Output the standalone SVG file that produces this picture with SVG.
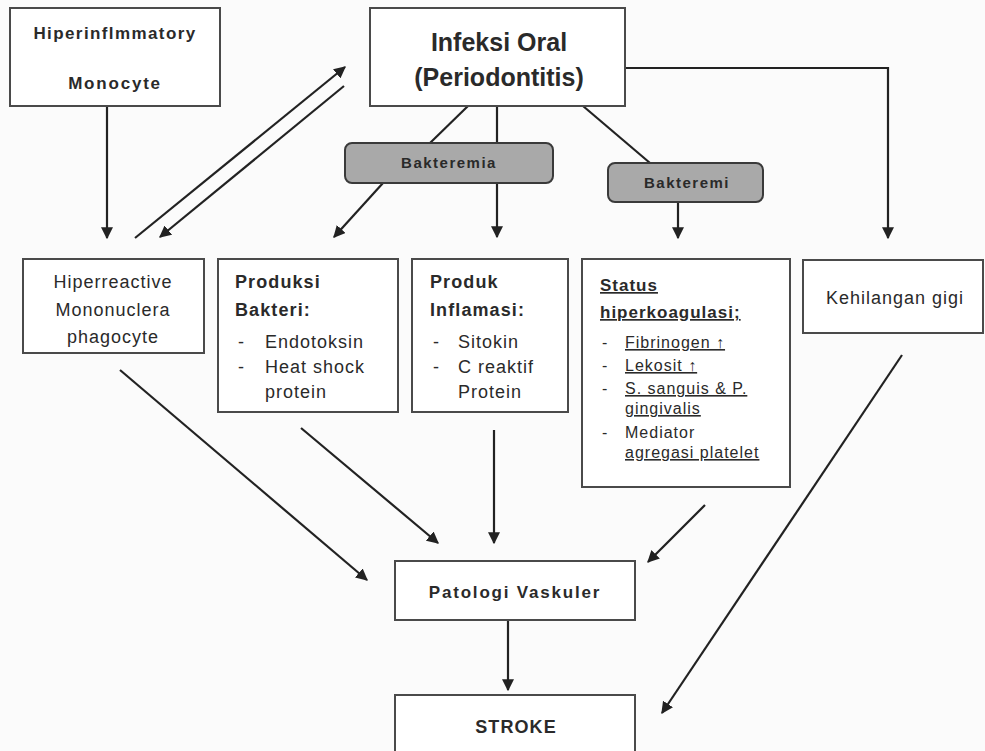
<svg xmlns="http://www.w3.org/2000/svg" width="985" height="751" viewBox="0 0 985 751">
<style>
.bg{fill:#fbfbfb}
.box{fill:#ffffff;stroke:#4a4a4a;stroke-width:2}
.pill{fill:#a9a9a9;stroke:#3a3a3a;stroke-width:2}
.ln{stroke:#222;stroke-width:2.2;fill:none}
text{font-family:"Liberation Sans",Arial,sans-serif;fill:#2a2a2a}
.b{font-weight:bold}
.r18{font-size:18px;letter-spacing:1px}
.b18{font-size:18px;font-weight:bold;letter-spacing:1.1px}
.s16{font-size:16px;letter-spacing:1px}
.u{text-decoration:underline}
</style>
<defs>
<marker id="ah" viewBox="0 0 10 10" markerWidth="12" markerHeight="12" refX="9" refY="5" orient="auto" markerUnits="userSpaceOnUse">
<path d="M0,0 L10,5 L0,10 z" fill="#222"/>
</marker>
</defs>
<rect class="bg" x="0" y="0" width="985" height="751"/>

<g id="connectors">
<line class="ln" x1="107" y1="106" x2="107" y2="238" marker-end="url(#ah)"/>
<line class="ln" x1="135" y1="238" x2="345" y2="67" marker-end="url(#ah)"/>
<line class="ln" x1="344" y1="86" x2="160" y2="237" marker-end="url(#ah)"/>
<polyline class="ln" points="625,68 888,68 888,238" marker-end="url(#ah)"/>
<line class="ln" x1="468" y1="106" x2="430" y2="143"/>
<line class="ln" x1="383" y1="183" x2="334" y2="237" marker-end="url(#ah)"/>
<line class="ln" x1="497" y1="106" x2="497" y2="237" marker-end="url(#ah)"/>
<line class="ln" x1="583" y1="106" x2="650" y2="163"/>
<line class="ln" x1="678" y1="202" x2="678" y2="238" marker-end="url(#ah)"/>
<line class="ln" x1="120" y1="370" x2="367" y2="580" marker-end="url(#ah)"/>
<line class="ln" x1="301" y1="428" x2="438" y2="543" marker-end="url(#ah)"/>
<line class="ln" x1="494" y1="430" x2="494" y2="543" marker-end="url(#ah)"/>
<line class="ln" x1="705" y1="505" x2="648" y2="562" marker-end="url(#ah)"/>
<line class="ln" x1="902" y1="355" x2="662" y2="713" marker-end="url(#ah)"/>
<line class="ln" x1="508" y1="620" x2="508" y2="690" marker-end="url(#ah)"/>
</g>

<g id="hiperinflammatory">
<rect class="box" x="10" y="8" width="210" height="98"/>
<text x="115" y="39" text-anchor="middle" class="b" font-size="17" letter-spacing="1.4">Hiperinflmmatory</text>
<text x="115" y="89" text-anchor="middle" class="b" font-size="17" letter-spacing="1.8">Monocyte</text>
</g>

<g id="infeksi-oral">
<rect class="box" x="370" y="8" width="255" height="98"/>
<text x="499" y="51" text-anchor="middle" class="b" font-size="25">Infeksi Oral</text>
<text x="499" y="86" text-anchor="middle" class="b" font-size="25">(Periodontitis)</text>
</g>

<g id="bakteremia1">
<rect class="pill" x="345" y="143" width="208" height="40" rx="7"/>
<text x="449" y="168" text-anchor="middle" class="b" font-size="15" letter-spacing="1.5">Bakteremia</text>
</g>

<g id="bakteremi2">
<rect class="pill" x="608" y="163" width="155" height="39" rx="7"/>
<text x="687" y="188" text-anchor="middle" class="b" font-size="15" letter-spacing="1.5">Bakteremi</text>
</g>

<g id="hiperreactive">
<rect class="box" x="23" y="259" width="181" height="94"/>
<text x="113" y="288" text-anchor="middle" class="r18">Hiperreactive</text>
<text x="113" y="316" text-anchor="middle" class="r18">Mononuclera</text>
<text x="113" y="343" text-anchor="middle" class="r18">phagocyte</text>
</g>

<g id="produksi-bakteri">
<rect class="box" x="218" y="259" width="180" height="153"/>
<text x="235" y="288" class="b18">Produksi</text>
<text x="235" y="316" class="b18">Bakteri:</text>
<text x="238" y="348" class="r18">-</text>
<text x="265" y="348" class="r18">Endotoksin</text>
<text x="238" y="373" class="r18">-</text>
<text x="265" y="373" class="r18">Heat shock</text>
<text x="265" y="398" class="r18">protein</text>
</g>

<g id="produk-inflamasi">
<rect class="box" x="412" y="259" width="156" height="153"/>
<text x="430" y="288" class="b18">Produk</text>
<text x="430" y="316" class="b18">Inflamasi:</text>
<text x="433" y="348" class="r18">-</text>
<text x="458" y="348" class="r18">Sitokin</text>
<text x="433" y="373" class="r18">-</text>
<text x="458" y="373" class="r18">C reaktif</text>
<text x="458" y="398" class="r18">Protein</text>
</g>

<g id="status">
<rect class="box" x="582" y="259" width="208" height="228"/>
<text x="600" y="291" class="b u" font-size="17" letter-spacing="1">Status</text>
<text x="600" y="318" class="b u" font-size="17" letter-spacing="1">hiperkoagulasi;</text>
<text x="602" y="348" class="s16">-</text>
<text x="625" y="348" class="s16 u">Fibrinogen ↑</text>
<text x="602" y="371" class="s16">-</text>
<text x="625" y="371" class="s16 u">Lekosit ↑</text>
<text x="602" y="394" class="s16">-</text>
<text x="625" y="394" class="s16 u">S. sanguis &amp; P.</text>
<text x="625" y="414" class="s16 u">gingivalis</text>
<text x="602" y="438" class="s16">-</text>
<text x="625" y="438" class="s16">Mediator</text>
<text x="625" y="458" class="s16 u">agregasi  platelet</text>
</g>

<g id="kehilangan-gigi">
<rect class="box" x="803" y="260" width="180" height="73"/>
<text x="895" y="304" text-anchor="middle" class="r18">Kehilangan gigi</text>
</g>

<g id="patologi-vaskuler">
<rect class="box" x="395" y="561" width="240" height="59"/>
<text x="515" y="598" text-anchor="middle" class="b" font-size="17" letter-spacing="1.8">Patologi Vaskuler</text>
</g>

<g id="stroke">
<rect class="box" x="395" y="695" width="240" height="62"/>
<text x="516" y="733" text-anchor="middle" class="b18" letter-spacing="1.8">STROKE</text>
</g>
</svg>
